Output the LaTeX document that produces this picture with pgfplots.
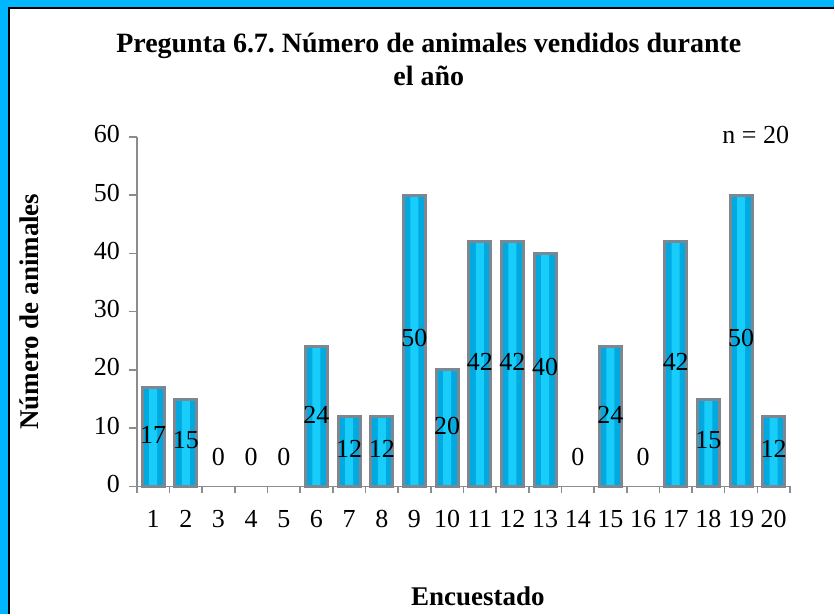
\documentclass[border=0pt]{standalone}
\usepackage{pgfplots}
\pgfplotsset{compat=1.18}
\usepackage{pgfplotstable}
\usepackage{fontspec}
\setmainfont{Liberation Serif}
\frenchspacing
\definecolor{frameblue}{RGB}{0,183,255}
\definecolor{barcyan}{RGB}{0,170,225}
\definecolor{barlight}{RGB}{25,205,250}
\definecolor{bargray}{RGB}{125,135,145}
\definecolor{axgray}{RGB}{140,140,140}

\pgfplotstableread{
x y ly
1 17 8.9
2 15 7.9
3 0 5.1
4 0 5.1
5 0 5.1
6 24 12.3
7 12 6.4
8 12 6.4
9 50 25.4
10 20 10.4
11 42 21.3
12 42 21.3
13 40 20.5
14 0 5.1
15 24 12.3
16 0 5.1
17 42 21.3
18 15 7.9
19 50 25.4
20 12 6.4
}\datatable

\begin{document}
\begin{tikzpicture}
\fill[frameblue] (0,0) rectangle (417.5pt,307.5pt);
\fill[white] (4pt,0) rectangle (417.5pt,304pt);
\draw[black,line width=1pt] (4.5pt,0) -- (4.5pt,303.5pt) -- (417.5pt,303.5pt);
\begin{axis}[
  at={(68.5pt,64pt)}, anchor=south west,
  scale only axis, width=327pt, height=175pt,
  xmin=0.5, xmax=20.5, ymin=0, ymax=60,
  clip=false,
  axis lines=left, axis line style={-, draw=axgray, line width=0.75pt},
  tick align=outside,
  ytick={0,10,...,60},
  major tick length=4pt, minor tick length=3.5pt,
  ytick style={draw=axgray, line width=0.75pt},
  xtick={1,...,20},
  major x tick style={draw=none},
  minor xtick={0.5,1.5,...,20.5},
  minor x tick style={draw=axgray, line width=0.75pt},
  tick label style={font=\fontsize{13}{15}\selectfont},
  typeset ticklabels with strut,
  xticklabel style={yshift=-2.5pt},
  yticklabel style={xshift=-1pt},
  /pgf/number format/assume math mode=true,
  title={Pregunta 6.7. Número de animales vendidos durante\\el año},
  title style={align=center, font=\bfseries\fontsize{14}{16.5}\selectfont, at={(rel axis cs:0.447,1.187)}, anchor=center},
  xlabel={Encuestado},
  xlabel style={font=\bfseries\fontsize{13.5}{15}\selectfont, at={(rel axis cs:0.522,-0.313)}, anchor=center},
  ylabel={Número de animales},
  ylabel style={font=\bfseries\fontsize{13.5}{15}\selectfont, at={(rel axis cs:-0.165,0.5)}, anchor=center, rotate=0},
]
\addplot[ybar, bar width=11pt, draw=none, fill=barcyan,
  restrict y to domain=0.5:100] table[x=x,y=y]{\datatable};
\addplot[ybar, bar width=4pt, draw=none, fill=barlight,
  restrict y to domain=0.5:100] table[x=x,y=y]{\datatable};
\addplot[ybar, bar width=11pt, draw=bargray, line width=1.5pt, fill=none,
  restrict y to domain=0.5:100] table[x=x,y=y]{\datatable};
\addplot[only marks, mark=none, nodes near coords, point meta=explicit symbolic,
  nodes near coords align=center,
  every node near coord/.append style={font=\fontsize{13}{15}\selectfont, text=black}]
  table[x=x,y=ly,meta=y]{\datatable};
\node[font=\fontsize{13}{15}\selectfont] at (axis cs:19.45,60.3) {n = 20};
\end{axis}
\end{tikzpicture}
\end{document}
